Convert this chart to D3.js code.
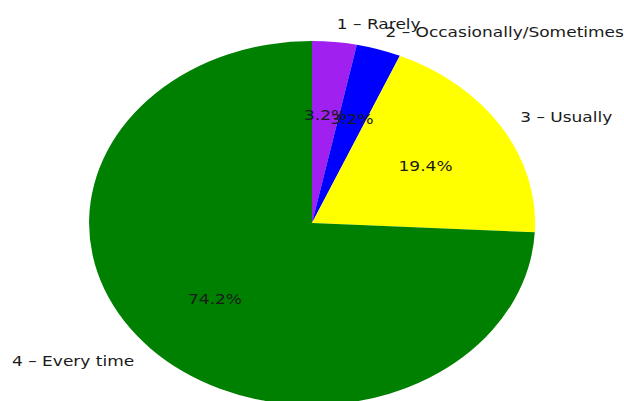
<!DOCTYPE html>
<html>
<head>
<meta charset="utf-8">
<script src="https://cdn.jsdelivr.net/npm/d3@7"></script>
<style>
  body { margin: 0; background: #fff; }
  text { font-family: "DejaVu Sans", sans-serif; fill: #1a1a1a; }
</style>
</head>
<body>
<svg id="canvas"></svg>
<script>
// answers out of 31 responses
const labels = ["1 – Rarely", "2 – Occasionally/Sometimes", "3 – Usually", "4 – Every time"];
const counts = [1, 1, 6, 23];
const colors = ["#a020f0", "#0000ff", "#ffff00", "#008000"];

let width = 624;
let height = 401;
let cx = 312, cy = 223;
let rx = 223, ry = 182;   // whole picture is stretched a bit wide
let stretch = 1.26;

let canvas = d3.select('#canvas')
    .attr('width', width)
    .attr('height', height);

let total = d3.sum(counts);
let pie = d3.pie().sort(null).value(d => d);
let slices = pie(counts);

let arc = d3.arc().innerRadius(0).outerRadius(1);
let labelArc = d3.arc().innerRadius(1.1).outerRadius(1.1);
let pctArc = d3.arc().innerRadius(0.6).outerRadius(0.6);

let colorScale = d3.scaleOrdinal().domain(labels).range(colors);

canvas.append('g')
    .attr('transform', `translate(${cx},${cy}) scale(${rx},${ry})`)
    .selectAll('path')
    .data(slices)
    .enter()
    .append('path')
    .attr('d', arc)
    .attr('fill', (d, i) => colorScale(labels[i]));

let toPx = p => [cx + p[0] * rx, cy + p[1] * ry];
let place = (a, d) => {
    let p = toPx(a.centroid(d));
    return `translate(${p[0]},${p[1]}) scale(${stretch},1)`;
};

// outer labels
canvas.selectAll('text.lbl')
    .data(slices)
    .enter()
    .append('text')
    .attr('class', 'lbl')
    .attr('transform', d => place(labelArc, d))
    .attr('dy', '0.35em')
    .attr('text-anchor', d => labelArc.centroid(d)[0] > 0 ? 'start' : 'end')
    .style('font-size', '13.5px')
    .text((d, i) => labels[i]);

// percentages
canvas.selectAll('text.pct')
    .data(slices)
    .enter()
    .append('text')
    .attr('class', 'pct')
    .attr('transform', d => place(pctArc, d))
    .attr('dy', '0.4em')
    .attr('text-anchor', 'middle')
    .style('font-size', '13.5px')
    .text(d => (d.value / total * 100).toFixed(1) + '%');
</script>
</body>
</html>
